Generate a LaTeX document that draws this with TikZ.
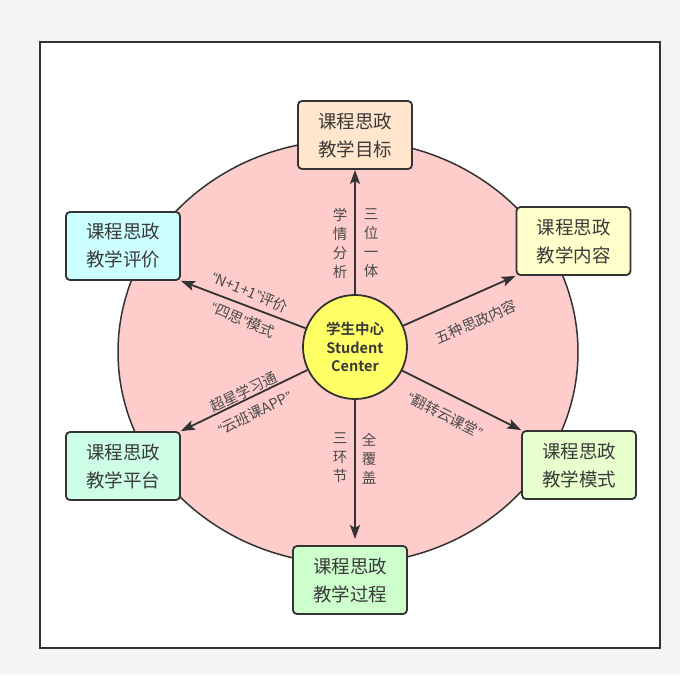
\documentclass[tikz,border=0pt]{standalone}
\usepackage{fontspec}
\setmainfont{Noto Sans CJK SC}
\newfontfamily\cjkbold{Noto Sans CJK SC Bold}
\newfontfamily\latinq{Liberation Sans}
\newcommand\oq{{\latinq “}}
\newcommand\cq{{\latinq ”}}
\usetikzlibrary{arrows.meta}
\definecolor{bgout}{HTML}{F5F5F5}
\definecolor{frameline}{HTML}{333333}
\definecolor{pinkfill}{HTML}{FFCCCC}
\definecolor{yellowfill}{HTML}{FFFF66}
\definecolor{peach}{HTML}{FFE6CC}
\definecolor{cyanfill}{HTML}{CCFFFF}
\definecolor{lightyellow}{HTML}{FFFFCC}
\definecolor{mint}{HTML}{CCFFE6}
\definecolor{limefill}{HTML}{E6FFCC}
\definecolor{greenfill}{HTML}{CCFFCC}
\definecolor{txt}{HTML}{3A3A3A}
\definecolor{lbltxt}{HTML}{4A4A4A}
\tikzset{
  boxnode/.style={draw=frameline, line width=1.8pt, rounded corners=4pt,
    minimum width=114pt, minimum height=68pt, align=center, text=txt,
    inner sep=0pt, font=\fontsize{18.5}{28}\selectfont},
  lbl/.style={text=lbltxt, inner sep=0pt, align=center,
    font=\fontsize{14.5}{19}\selectfont},
  conn/.style={draw=frameline, line width=1.8pt,
    -{Stealth[length=14pt,width=10pt,inset=3pt]}}
}
\begin{document}
\begin{tikzpicture}[x=1pt,y=-1pt]
\useasboundingbox (0,0) rectangle (680,675);
\fill[bgout] (0,0) rectangle (680,675);
\draw[fill=white, draw=frameline, line width=1.5pt] (40,42) rectangle (660,648);
\draw[fill=pinkfill, draw=frameline, line width=1.5pt] (348,352) ellipse [x radius=230, y radius=212];

\node[boxnode, fill=peach] (top) at (355,135) {课程思政\\教学目标};
\node[boxnode, fill=cyanfill] (tl) at (123,246) {课程思政\\教学评价};
\node[boxnode, fill=lightyellow] (tr) at (573.5,241) {课程思政\\教学内容};
\node[boxnode, fill=mint] (bl) at (123,466) {课程思政\\教学平台};
\node[boxnode, fill=limefill] (br) at (579,465) {课程思政\\教学模式};
\node[boxnode, fill=greenfill] (bot) at (350,580) {课程思政\\教学过程};

\node[circle, draw=frameline, line width=1.8pt, fill=yellowfill, minimum size=104pt,
  inner sep=0pt, align=center, text=txt, font=\cjkbold\fontsize{14.5}{18.5}\selectfont]
  (c) at (355,347) {学生中心\\Student\\Center};

\coordinate (botend) at (355,546);
\draw[conn] (c) -- (top.south);
\draw[conn] (c) -- (tl.south east);
\draw[conn] (c) -- (tr.south west);
\draw[conn] (c) -- (bl.north east);
\draw[conn] (c) -- (br.north west);
\draw[conn, shorten >=7pt] (c.south) -- (botend);

\node[lbl] (l1) at (340,243) {学\\情\\分\\析};
\node[lbl] (l2) at (371,243) {三\\位\\一\\体};
\node[lbl] (l3) at (340,458) {三\\环\\节};
\node[lbl] (l4) at (369,459) {全\\覆\\盖};
\node[lbl, rotate=-23] (l5) at (250,292) {\oq N+1+1\cq 评价};
\node[lbl, rotate=-23] (l6) at (243,320) {\oq 四思\cq 模式};
\node[lbl, rotate=24] (l7) at (476,322) {五种思政内容};
\node[lbl, rotate=26] (l8) at (244,392) {超星学习通};
\node[lbl, rotate=26] (l9) at (255,413) {\oq 云班课APP\cq};
\node[lbl, rotate=-27] (l10) at (445,415) {\oq 翻转云课堂\cq};
\end{tikzpicture}
\end{document}
